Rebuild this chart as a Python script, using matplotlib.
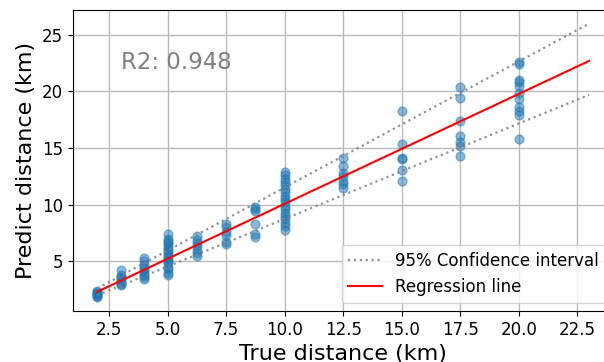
import matplotlib
matplotlib.use("Agg")
import matplotlib.pyplot as plt
import numpy as np

# true distances (km) and predicted distances
true_km = [2, 3, 4, 5, 6.25, 7.5, 8.75, 10, 12.5, 15, 17.5, 20]
pred_km = [
    [1.8, 1.9, 2.0, 2.1, 2.2, 2.3, 2.4],
    [2.9, 3.0, 3.2, 3.3, 3.5, 3.6, 3.8, 4.2],
    [3.4, 3.6, 3.8, 4.0, 4.2, 4.4, 4.7, 5.0, 5.3],
    [3.8, 4.0, 4.3, 4.5, 4.8, 5.0, 5.2, 5.4, 5.6, 5.8, 6.0, 6.2, 6.4, 6.6, 6.8, 7.0, 7.4],
    [5.5, 5.7, 6.0, 6.3, 6.6, 6.9, 7.2],
    [6.5, 6.7, 7.3, 7.6, 8.0, 8.3],
    [7.1, 7.4, 8.3, 9.4, 9.6, 9.8],
    [7.8, 8.1, 8.4, 8.7, 9.0, 9.3, 9.6, 9.9, 10.2, 10.5, 10.8, 11.1, 11.4,
     11.7, 12.0, 12.3, 12.6, 12.9],
    [11.5, 11.8, 12.1, 12.5, 12.8, 13.4, 14.1],
    [12.1, 13.1, 14.0, 14.1, 15.4, 18.3],
    [14.3, 15.2, 15.5, 16.1, 17.4, 19.4, 20.4],
    [15.8, 17.9, 18.3, 18.6, 19.3, 19.9, 20.5, 20.8, 21.0, 22.4, 22.6],
]
r2 = 0.948

# regression line and 95% interval end points
line_x = [2, 23]
reg_y = [2.3, 22.7]
upper_y = [2.6, 26.0]
lower_y = [2.0, 19.7]

xs = np.concatenate([[t] * len(p) for t, p in zip(true_km, pred_km)])
ys = np.concatenate(pred_km)

fig = plt.figure(figsize=(6.04, 3.62), dpi=100)
ax = fig.add_axes([0.1204, 0.1409, 0.8957, 0.8315])

ax.scatter(xs, ys, s=40, color="tab:blue", alpha=0.5, zorder=2)
ax.plot(line_x, upper_y, ":", color="gray", lw=1.6, alpha=0.85,
        label="95% Confidence interval")
ax.plot(line_x, lower_y, ":", color="gray", lw=1.6, alpha=0.85)
ax.plot(line_x, reg_y, color="red", lw=1.5, label="Regression line")

ax.text(3, 22, f"R2: {r2}", fontsize=16.5, color="gray")

ax.set_xlim(0.95, 24.05)
ax.set_ylim(0.6, 27.2)
ax.set_xticks([2.5, 5.0, 7.5, 10.0, 12.5, 15.0, 17.5, 20.0, 22.5])
ax.set_yticks([5, 10, 15, 20, 25])
ax.tick_params(labelsize=12)
ax.grid(True, color="#bbbbbb", lw=1.0, zorder=0)
ax.set_axisbelow(True)
ax.set_xlabel("True distance (km)", fontsize=16)
ax.set_ylabel("Predict distance (km)", fontsize=16)
ax.legend(loc="lower right", fontsize=12)

fig.savefig("out.png", dpi=100)
